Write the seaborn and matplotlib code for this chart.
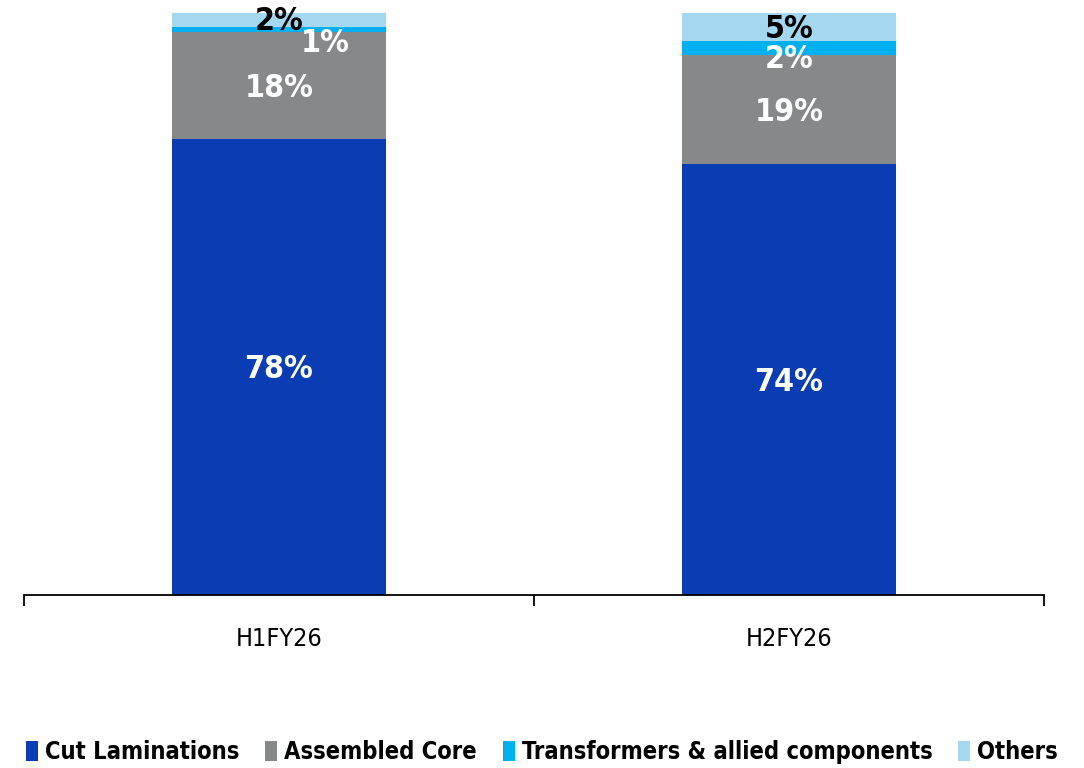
import matplotlib
matplotlib.use("Agg")
import matplotlib.pyplot as plt
import seaborn as sns
import pandas as pd
import numpy as np
from matplotlib.patches import Patch
from matplotlib import font_manager

periods = ["H1FY26", "H2FY26"]
segments = ["Cut Laminations", "Assembled Core", "Transformers & allied components", "Others"]
cut_laminations = [78.4, 74.1]
assembled_core = [18.4, 18.7]
transformers = [0.8, 2.4]
others = [2.4, 4.8]

colors = ["#0A3CB4", "#878889", "#00B0F0", "#A3D8F0"]
label_colors = ["white", "white", "white", "black"]

sns.set_theme(style="white")
plt.rcParams["font.family"] = ["DejaVu Sans"]
plt.rcParams["text.color"] = "black"
plt.rcParams["xtick.color"] = "black"

# look for a condensed face, the reference uses a narrow DIN-like font
have_condensed = any("condensed" in f.fname.lower() and "dejavu" in f.fname.lower()
                     for f in font_manager.fontManager.ttflist)
stretch = "condensed" if have_condensed else "normal"
lab_size = 23 if have_condensed else 21
leg_size = 17 if have_condensed else 15

df = pd.DataFrame({"period": periods, "Cut Laminations": cut_laminations,
                   "Assembled Core": assembled_core,
                   "Transformers & allied components": transformers,
                   "Others": others})

fig = plt.figure(figsize=(10.84, 7.68), dpi=100)
ax = fig.add_axes([0.022, 0.2253, 0.941, 0.7577])

bottom = np.zeros(len(periods))
for seg, col, lc in zip(segments, colors, label_colors):
    vals = df[seg].values
    sns.barplot(x=df["period"], y=vals, bottom=bottom, color=col, width=0.42,
                ax=ax, saturation=1, edgecolor="none", linewidth=0)
    for i, v in enumerate(vals):
        xpos = i
        ypos = bottom[i] + v / 2 - 0.5
        # small slices are nudged so the labels don't overlap
        if seg == "Transformers & allied components":
            ypos = bottom[i] + v / 2 - 2.0
            if i == 0:
                xpos = i + 0.09
                ypos = bottom[i] - 2.0
        if seg == "Others" and i == 0:
            ypos = bottom[i] + v / 2 - 0.3
        ax.text(xpos, ypos, f"{v:.0f}%", ha="center", va="center",
                color=lc, fontsize=lab_size, fontweight="bold", fontstretch=stretch)
    bottom += vals

ax.set_xlim(-0.5, 1.5)
ax.set_ylim(0, 100)
ax.set_yticks([])
ax.set_xlabel("")
ax.set_ylabel("")
for s in ["top", "left", "right"]:
    ax.spines[s].set_visible(False)
ax.spines["bottom"].set_color("black")
ax.spines["bottom"].set_linewidth(1.3)
ax.set_xticks([0, 1])
ax.set_xticklabels(periods, fontsize=18, fontstretch=stretch)
ax.set_xticks([-0.5, 0.5, 1.5], minor=True)
ax.tick_params(axis="x", which="major", length=0, pad=23)
ax.tick_params(axis="x", which="minor", length=8, width=1.3, color="black",
               direction="out", bottom=True)

handles = [Patch(facecolor=c, edgecolor="none") for c in colors]
fig.legend(handles, segments, loc="center", bbox_to_anchor=(0.5, 0.021), ncol=4,
           frameon=False, handlelength=0.5, handleheight=0.9,
           handletextpad=0.3, columnspacing=1.1,
           prop={"weight": "bold", "size": leg_size, "stretch": stretch})

fig.savefig("out.png", dpi=100)
